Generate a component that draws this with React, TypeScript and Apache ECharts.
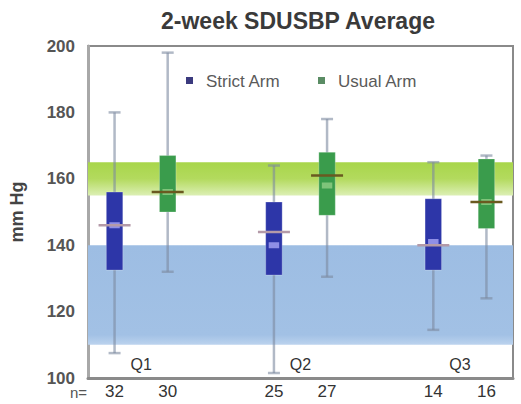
import React, { useEffect, useRef } from "react";
import * as echarts from "echarts";

const slots = ["s1", "u1", "g1", "s2", "u2", "g2", "s3", "u3"];
const nLabels = ["32", "30", "", "25", "27", "", "14", "16"];
const quarterNames = ["Q1", "Q2", "Q3"];
const legendNames = ["Strict Arm", "Usual Arm"];
// [slot, low, q1, median, q3, high, mean]
const strictArm = [
  [0, 107.5, 132.5, 146, 156, 180, 146],
  [3, 101.5, 131, 140, 153, 164, 144],
  [6, 114.5, 132.5, 141, 154, 165, 140],
];
const usualArm = [
  [1, 132, 150, 156, 167, 198, 156],
  [4, 130.5, 149, 158, 168, 178, 161],
  [7, 124, 145, 153, 166, 167, 153],
];
const strictTarget = [110, 140];
const usualTarget = [155, 165];
const yTicks = { min: 100, max: 200, interval: 20 };

const FONT = "Liberation Sans, Arial, sans-serif";

function makeRender(boxColor: string, medianColor: string, meanColor: string) {
  return (params: any, api: any) => {
    const x = api.value(0);
    const low = api.coord([x, api.value(1)]);
    const q1 = api.coord([x, api.value(2)]);
    const med = api.coord([x, api.value(3)]);
    const q3 = api.coord([x, api.value(4)]);
    const high = api.coord([x, api.value(5)]);
    const mean = api.coord([x, api.value(6)]);
    const bw = api.size([1, 0])[0] * 0.31;
    const cx = low[0];
    const whisk = { stroke: "rgba(125,138,160,0.6)", lineWidth: 2.5 };
    return {
      type: "group",
      children: [
        { type: "line", shape: { x1: cx, y1: low[1], x2: cx, y2: high[1] }, style: whisk },
        { type: "line", shape: { x1: cx - 6, y1: low[1], x2: cx + 6, y2: low[1] }, style: whisk },
        { type: "line", shape: { x1: cx - 6, y1: high[1], x2: cx + 6, y2: high[1] }, style: whisk },
        { type: "rect", shape: { x: cx - bw / 2, y: q3[1], width: bw, height: q1[1] - q3[1] }, style: { fill: boxColor, stroke: "rgba(255,255,255,0.25)", lineWidth: 1 } },
        { type: "rect", shape: { x: cx - bw / 2 + 3, y: med[1] - 3, width: bw - 6, height: 6 }, style: { fill: medianColor } },
        { type: "line", shape: { x1: cx - 16, y1: mean[1], x2: cx + 16, y2: mean[1] }, style: { stroke: meanColor, lineWidth: 2.5 } },
      ],
    };
  };
}

export default function App() {
  const ref = useRef<HTMLDivElement>(null);
  useEffect(() => {
    const chart = echarts.init(ref.current!, null, { renderer: "svg" });
    const quarterData = quarterNames.map((q, i) => [i * 3, i * 3 + 1, 104, q]);
    const legendColors = ["#3b3a7e", "#5a8c64"];
    const legendX = [186, 318];
    const legendGraphics: any[] = [];
    legendNames.forEach((name, i) => {
      legendGraphics.push({
        type: "rect",
        shape: { x: legendX[i], y: 77, width: 7, height: 7 },
        style: { fill: legendColors[i] },
      });
      legendGraphics.push({
        type: "text",
        x: legendX[i] + 20,
        y: 81,
        style: { text: name, fontSize: 17, fill: "#5a5a5a", fontFamily: FONT, verticalAlign: "middle" },
      });
    });
    chart.setOption({
      animation: false,
      backgroundColor: "#fff",
      title: {
        text: "2-week SDUSBP Average",
        left: 293,
        textAlign: "center",
        top: 4,
        textStyle: { fontSize: 23, fontWeight: "bold", color: "#3a3a3a", fontFamily: FONT },
      },
      grid: { left: 82, right: 8, top: 46, bottom: 26, show: true, borderColor: "#8a8a8a", borderWidth: 2 },
      xAxis: {
        type: "category",
        data: slots,
        axisLine: { lineStyle: { color: "#8a8a8a", width: 3 } },
        axisTick: { show: false },
        axisLabel: {
          formatter: (_v: string, i: number) => nLabels[i],
          fontSize: 17,
          color: "#333",
          margin: 5,
          fontFamily: FONT,
        },
      },
      yAxis: {
        type: "value",
        min: yTicks.min,
        max: yTicks.max,
        interval: yTicks.interval,
        name: "mm Hg",
        nameLocation: "middle",
        nameRotate: 90,
        nameGap: 62,
        nameTextStyle: { fontSize: 18, color: "#444", fontWeight: "bold", fontFamily: FONT },
        axisLine: { show: true, lineStyle: { color: "#a8a8a8", width: 3 } },
        axisTick: { show: false },
        splitLine: { show: false },
        axisLabel: { fontSize: 17, color: "#555", fontWeight: "bold", margin: 13, fontFamily: FONT },
      },
      graphic: [
        {
          type: "text",
          left: 70,
          top: 385,
          style: { text: "n=", fontSize: 15, fill: "#555", fontFamily: FONT },
        },
        ...legendGraphics,
      ],
      series: [
        {
          type: "line",
          data: [],
          z: 1,
          silent: true,
          markArea: {
            silent: true,
            data: [
              [
                {
                  yAxis: strictTarget[0],
                  itemStyle: {
                    color: new echarts.graphic.LinearGradient(0, 0, 0, 1, [
                      { offset: 0, color: "#9dbde3" },
                      { offset: 0.9, color: "#a2c1e5" },
                      { offset: 1, color: "#bcd3ee" },
                    ]),
                  },
                },
                { yAxis: strictTarget[1] },
              ],
              [
                {
                  yAxis: usualTarget[0],
                  itemStyle: {
                    color: new echarts.graphic.LinearGradient(0, 0, 0, 1, [
                      { offset: 0, color: "#a8d64a" },
                      { offset: 0.5, color: "#b3da5e" },
                      { offset: 1, color: "#dcefb4" },
                    ]),
                  },
                },
                { yAxis: usualTarget[1] },
              ],
            ],
          },
        },
        {
          name: "Strict Arm",
          type: "custom",
          z: 3,
          renderItem: makeRender("#2d36a8", "#8f8fe6", "#b49aa8"),
          encode: { x: 0, y: [1, 2, 3, 4, 5, 6] },
          data: strictArm,
        },
        {
          name: "Usual Arm",
          type: "custom",
          z: 3,
          renderItem: makeRender("#3a9c4c", "#7fc47a", "#6a5a20"),
          encode: { x: 0, y: [1, 2, 3, 4, 5, 6] },
          data: usualArm,
        },
        {
          type: "custom",
          z: 4,
          silent: true,
          renderItem: (params: any, api: any) => {
            const a = api.coord([api.value(0), api.value(2)]);
            const b = api.coord([api.value(1), api.value(2)]);
            return {
              type: "text",
              x: (a[0] + b[0]) / 2,
              y: a[1],
              style: {
                text: quarterNames[params.dataIndex],
                fontSize: 16,
                fill: "#333",
                align: "center",
                verticalAlign: "middle",
                fontFamily: FONT,
              },
            };
          },
          encode: { x: [0, 1], y: 2 },
          data: quarterData,
        },
      ],
    });
    return () => chart.dispose();
  }, []);
  return <div ref={ref} style={{ width: 521, height: 404, position: "absolute", left: 0, top: 0 }} />;
}
